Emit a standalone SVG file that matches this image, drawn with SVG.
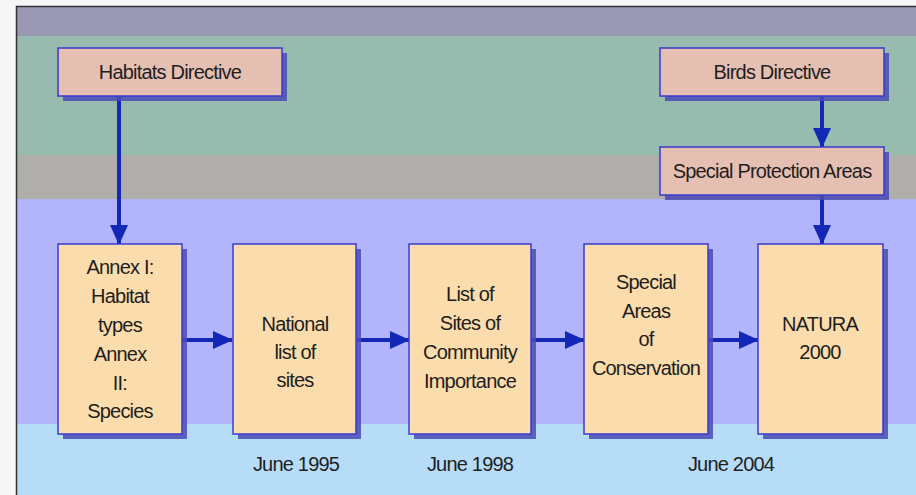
<svg xmlns="http://www.w3.org/2000/svg" width="916" height="495" viewBox="0 0 916 495">
<style>
.t{font-family:"Liberation Sans",Arial,sans-serif;font-size:20px;fill:#1e1e1e;text-anchor:middle;letter-spacing:-0.8px}
.top{fill:#e6bfb3;stroke:#3a3ad0;stroke-width:1.5}
.box{fill:#fbdcac;stroke:#3a3ad0;stroke-width:1.5}
.sh{fill:#4a4ab4;opacity:0.85}
.c{stroke:#1428b8;stroke-width:4;fill:none}
</style>
<defs>
<marker id="ah" markerUnits="userSpaceOnUse" markerWidth="20" markerHeight="20" viewBox="0 0 20 20" refX="19" refY="10" orient="auto">
<path d="M0,1 L20,10 L0,19 Z" fill="#1428b8"/>
</marker>
</defs>
<g id="background">
<rect x="0" y="0" width="916" height="495" fill="#f6f6f6"/>
<rect x="16" y="6" width="900" height="30" fill="#9b98b4"/>
<rect x="16" y="36" width="900" height="119" fill="#98bbb0"/>
<rect x="16" y="155" width="900" height="44" fill="#b0aeab"/>
<rect x="16" y="199" width="900" height="225" fill="#b2b4fc"/>
<rect x="16" y="424" width="900" height="71" fill="#b6dcf8"/>
<path d="M16.5,495 V6.5 H916" fill="none" stroke="#333" stroke-width="1.5"/>
</g>
<g id="connectors">
<line class="c" x1="119" y1="96" x2="119" y2="244" marker-end="url(#ah)"/>
<line class="c" x1="822" y1="96" x2="822" y2="147" marker-end="url(#ah)"/>
<line class="c" x1="822" y1="195" x2="822" y2="244" marker-end="url(#ah)"/>
<line class="c" x1="182" y1="340" x2="232" y2="340" marker-end="url(#ah)"/>
<line class="c" x1="356" y1="340" x2="409" y2="340" marker-end="url(#ah)"/>
<line class="c" x1="531" y1="340" x2="584" y2="340" marker-end="url(#ah)"/>
<line class="c" x1="708" y1="340" x2="758" y2="340" marker-end="url(#ah)"/>
</g>
<g id="habitats">
<rect class="sh" x="63" y="53" width="224" height="48"/>
<rect class="top" x="58" y="48" width="224" height="48"/>
<text class="t" x="170" y="79">Habitats Directive</text>
</g>
<g id="birds">
<rect class="sh" x="665" y="53" width="224" height="48"/>
<rect class="top" x="660" y="48" width="224" height="48"/>
<text class="t" x="772" y="79">Birds Directive</text>
</g>
<g id="spa">
<rect class="sh" x="665" y="152" width="224" height="48"/>
<rect class="top" x="660" y="147" width="224" height="48"/>
<text class="t" x="772" y="178">Special Protection Areas</text>
</g>
<g id="annex">
<rect class="sh" x="63" y="249" width="124" height="190"/>
<rect class="box" x="58" y="244" width="124" height="190"/>
<text class="t" x="120" y="274">Annex I:</text>
<text class="t" x="120" y="303">Habitat</text>
<text class="t" x="120" y="332">types</text>
<text class="t" x="120" y="361">Annex</text>
<text class="t" x="120" y="390">II:</text>
<text class="t" x="120" y="418">Species</text>
</g>
<g id="national">
<rect class="sh" x="238" y="249" width="123" height="190"/>
<rect class="box" x="233" y="244" width="123" height="190"/>
<text class="t" x="295" y="331">National</text>
<text class="t" x="295" y="359">list of</text>
<text class="t" x="295" y="387">sites</text>
</g>
<g id="sci">
<rect class="sh" x="414" y="249" width="122" height="190"/>
<rect class="box" x="409" y="244" width="122" height="190"/>
<text class="t" x="470" y="301">List of</text>
<text class="t" x="470" y="330">Sites of</text>
<text class="t" x="470" y="359">Community</text>
<text class="t" x="470" y="388">Importance</text>
</g>
<g id="sac">
<rect class="sh" x="589" y="249" width="124" height="190"/>
<rect class="box" x="584" y="244" width="124" height="190"/>
<text class="t" x="646" y="289">Special</text>
<text class="t" x="646" y="318">Areas</text>
<text class="t" x="646" y="346">of</text>
<text class="t" x="646" y="375">Conservation</text>
</g>
<g id="natura">
<rect class="sh" x="763" y="249" width="125" height="190"/>
<rect class="box" x="758" y="244" width="125" height="190"/>
<text class="t" x="820" y="331">NATURA</text>
<text class="t" x="820" y="359">2000</text>
</g>
<g id="dates">
<text class="t" x="296" y="471">June 1995</text>
<text class="t" x="470" y="471">June 1998</text>
<text class="t" x="731" y="471">June 2004</text>
</g>
</svg>
